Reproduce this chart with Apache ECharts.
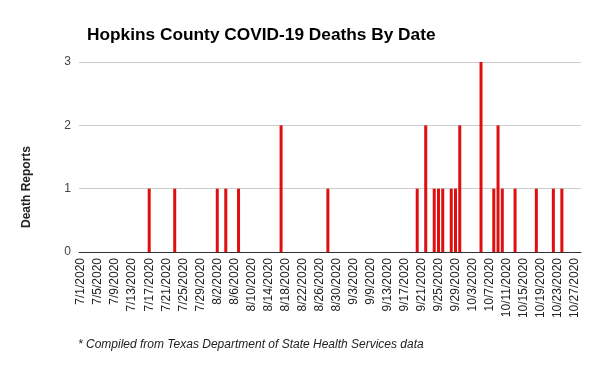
<!DOCTYPE html>
<html>
<head>
<meta charset="utf-8">
<script src="https://cdn.jsdelivr.net/npm/echarts@6/dist/echarts.min.js"></script>
<style>
html,body{margin:0;padding:0;background:#fff;}
#chart{width:600px;height:371px;}
</style>
</head>
<body>
<div id="chart"></div>
<script>
const categories = [
 "7/1/2020","7/2/2020","7/3/2020","7/4/2020","7/5/2020","7/6/2020","7/7/2020","7/8/2020","7/9/2020","7/10/2020",
 "7/11/2020","7/12/2020","7/13/2020","7/14/2020","7/15/2020","7/16/2020","7/17/2020","7/18/2020","7/19/2020","7/20/2020",
 "7/21/2020","7/22/2020","7/23/2020","7/24/2020","7/25/2020","7/26/2020","7/27/2020","7/28/2020","7/29/2020","7/30/2020",
 "7/31/2020","8/1/2020","8/2/2020","8/3/2020","8/4/2020","8/5/2020","8/6/2020","8/7/2020","8/8/2020","8/9/2020",
 "8/10/2020","8/11/2020","8/12/2020","8/13/2020","8/14/2020","8/15/2020","8/16/2020","8/17/2020","8/18/2020","8/19/2020",
 "8/20/2020","8/21/2020","8/22/2020","8/23/2020","8/24/2020","8/25/2020","8/26/2020","8/27/2020","8/28/2020","8/29/2020",
 "8/30/2020","8/31/2020","9/1/2020","9/2/2020","9/3/2020","9/4/2020","9/5/2020","9/8/2020","9/9/2020","9/10/2020",
 "9/11/2020","9/12/2020","9/13/2020","9/14/2020","9/15/2020","9/16/2020","9/17/2020","9/18/2020","9/19/2020","9/20/2020",
 "9/21/2020","9/22/2020","9/23/2020","9/24/2020","9/25/2020","9/26/2020","9/27/2020","9/28/2020","9/29/2020","9/30/2020",
 "10/1/2020","10/2/2020","10/3/2020","10/4/2020","10/5/2020","10/6/2020","10/7/2020","10/8/2020","10/9/2020","10/10/2020",
 "10/11/2020","10/12/2020","10/13/2020","10/14/2020","10/15/2020","10/16/2020","10/17/2020","10/18/2020","10/19/2020","10/20/2020",
 "10/21/2020","10/22/2020","10/23/2020","10/24/2020","10/25/2020","10/26/2020","10/27/2020","10/28/2020"
];
const deathDates = ["7/17/2020","7/23/2020","8/2/2020","8/4/2020","8/7/2020","8/17/2020","8/28/2020",
 "9/20/2020","9/22/2020","9/24/2020","9/25/2020","9/26/2020","9/28/2020","9/29/2020","9/30/2020",
 "10/5/2020","10/8/2020","10/9/2020","10/10/2020","10/13/2020","10/18/2020","10/22/2020","10/24/2020"];
const deathCounts = [1,1,1,1,1,2,1, 1,2,1,1,1,1,1,2, 3,1,2,1,1,1,1,1];
const yTicks = [0,1,2,3];

const lookup = {};
deathDates.forEach((d,i)=>{ lookup[d] = deathCounts[i]; });
const seriesData = categories.map(c => (c in lookup) ? lookup[c] : 0);

const chart = echarts.init(document.getElementById('chart'), null, {renderer:'canvas'});
chart.setOption({
  animation: false,
  backgroundColor: '#ffffff',
  title: {
    text: 'Hopkins County COVID-19 Deaths By Date',
    left: 82,
    top: 22,
    textStyle: {fontFamily: 'Liberation Sans, Arial, sans-serif', fontSize: 17.3, fontWeight: 'bold', color: '#000'}
  },
  grid: {left: 79, right: 19, top: 62, bottom: 119, containLabel: false},
  xAxis: {
    type: 'category',
    data: categories,
    boundaryGap: true,
    axisLine: {lineStyle: {color: '#333', width: 1}},
    axisTick: {show: false},
    axisLabel: {
      interval: 3,
      rotate: 90,
      margin: 6,
      color: '#222',
      fontFamily: 'Liberation Sans, Arial, sans-serif',
      fontSize: 12
    }
  },
  yAxis: {
    type: 'value',
    min: yTicks[0],
    max: yTicks[yTicks.length-1],
    interval: 1,
    axisLine: {show: false},
    axisTick: {show: false},
    splitLine: {lineStyle: {color: '#cccccc', width: 1}},
    axisLabel: {
      color: '#444',
      margin: 8,
      fontFamily: 'Liberation Sans, Arial, sans-serif',
      fontSize: 12
    }
  },
  graphic: [
    {
      type: 'text',
      x: 27, y: 187,
      rotation: Math.PI/2,
      style: {
        text: 'Death Reports',
        fontFamily: 'Liberation Sans, Arial, sans-serif',
        fontSize: 12, fontWeight: 'bold',
        fill: '#222',
        align: 'center', verticalAlign: 'middle'
      }
    },
    {
      type: 'text',
      x: 78, y: 345,
      style: {
        text: '* Compiled from Texas Department of State Health Services data',
        fontFamily: 'Liberation Sans, Arial, sans-serif',
        fontSize: 12, fontStyle: 'italic',
        fill: '#222',
        align: 'left', verticalAlign: 'middle'
      }
    }
  ],
  series: [{
    type: 'bar',
    data: seriesData,
    barWidth: 3,
    itemStyle: {color: '#e00e0e'}
  }]
});
</script>
</body>
</html>
